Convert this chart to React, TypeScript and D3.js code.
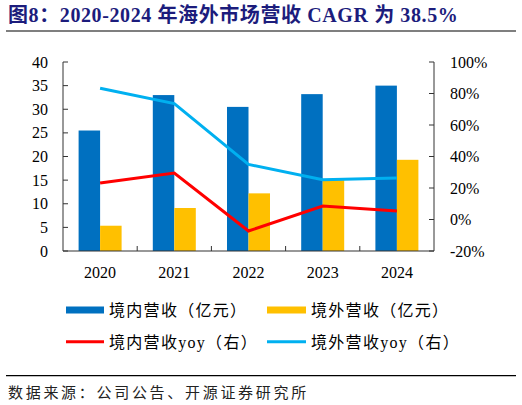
import React from "react";
import * as d3 from "d3";

const years = ["2020", "2021", "2022", "2023", "2024"];
const domestic = [25.5, 33.0, 30.5, 33.2, 35.0];
const overseas = [5.35, 9.1, 12.2, 15.0, 19.3];
const domesticYoy = [23.2, 29.5, -7.3, 8.6, 5.4];
const overseasYoy = [83.3, 73.6, 35.0, 25.3, 26.4];
const leftTicks = [0, 5, 10, 15, 20, 25, 30, 35, 40];
const rightTicks = [-20, 0, 20, 40, 60, 80, 100];

const W = 522;
const H = 405;
const left = 63;
const right = 434;
const top = 62;
const bottom = 251;

const serif = "'Liberation Serif', 'Times New Roman', serif";
const cjk = "'Liberation Serif', 'Noto Sans CJK SC', serif";

export default function App() {
  const x = d3.scaleBand<string>().domain(years).range([left, right]).paddingInner(0).paddingOuter(0);
  const bw = 21.5;
  const yL = d3.scaleLinear().domain([0, 40]).range([bottom, top]);
  const yR = d3.scaleLinear().domain([-20, 100]).range([bottom, top]);
  const cx = (y: string) => (x(y) as number) + x.bandwidth() / 2;
  const line = d3
    .line<number>()
    .x((_, i) => cx(years[i]))
    .y((d) => yR(d));
  const axisColor = "#333";
  return (
    <svg
      width={W}
      height={H}
      style={{ position: "absolute", left: 0, top: 0, background: "#fff" }}
    >
      <text
        x={8}
        y={21.5}
        fontFamily={cjk}
        fontWeight="bold"
        fontSize={20}
        letterSpacing={0.6}
        fill="#1c1c7c"
      >
        图8：2020-2024 年海外市场营收 CAGR 为 38.5%
      </text>
      <line x1={6} x2={516} y1={31} y2={31} stroke="#000" strokeWidth={1.2} />

      {/* bars */}
      {years.map((yr, i) => (
        <g key={yr}>
          <rect
            x={cx(yr) - bw}
            y={yL(domestic[i])}
            width={bw}
            height={bottom - yL(domestic[i])}
            fill="#0070C0"
          />
          <rect
            x={cx(yr)}
            y={yL(overseas[i])}
            width={bw}
            height={bottom - yL(overseas[i])}
            fill="#FFC000"
          />
        </g>
      ))}

      {/* lines */}
      <path d={line(overseasYoy) || ""} fill="none" stroke="#00B0F0" strokeWidth={3} />
      <path d={line(domesticYoy) || ""} fill="none" stroke="#FF0000" strokeWidth={3} />

      {/* left axis */}
      <line x1={left} x2={left} y1={top} y2={bottom} stroke={axisColor} strokeWidth={1} />
      {leftTicks.map((t) => (
        <g key={"l" + t}>
          <line x1={left} x2={left + 5} y1={yL(t)} y2={yL(t)} stroke={axisColor} />
          <text
            x={48}
            y={yL(t)}
            dy="0.35em"
            textAnchor="end"
            fontFamily={serif}
            fontSize={16}
            fill="#000"
          >
            {t}
          </text>
        </g>
      ))}

      {/* right axis */}
      <line x1={right} x2={right} y1={top} y2={bottom} stroke={axisColor} strokeWidth={1} />
      {rightTicks.map((t) => (
        <g key={"r" + t}>
          <line x1={right - 5} x2={right} y1={yR(t)} y2={yR(t)} stroke={axisColor} />
          <text
            x={450}
            y={yR(t)}
            dy="0.35em"
            textAnchor="start"
            fontFamily={serif}
            fontSize={16}
            fill="#000"
          >
            {t + "%"}
          </text>
        </g>
      ))}

      {/* x axis */}
      <line x1={left} x2={right} y1={bottom} y2={bottom} stroke={axisColor} strokeWidth={1.2} />
      {years.slice(1).map((yr) => (
        <line
          key={"t" + yr}
          x1={x(yr) as number}
          x2={x(yr) as number}
          y1={bottom}
          y2={bottom - 5}
          stroke={axisColor}
        />
      ))}
      {years.map((yr) => (
        <text
          key={"x" + yr}
          x={cx(yr)}
          y={272}
          dy="0.35em"
          textAnchor="middle"
          fontFamily={serif}
          fontSize={16}
          fill="#000"
        >
          {yr}
        </text>
      ))}

      {/* legend */}
      <rect x={66} y={306.5} width={38} height={7} fill="#0070C0" />
      <text x={109} y={316} fontFamily={cjk} fontSize={16} letterSpacing={1.3} fill="#000">
        境内营收（亿元）
      </text>
      <rect x={267} y={306.5} width={39} height={7} fill="#FFC000" />
      <text x={311} y={316} fontFamily={cjk} fontSize={16} letterSpacing={1.3} fill="#000">
        境外营收（亿元）
      </text>
      <line x1={66} x2={104} y1={341.7} y2={341.7} stroke="#FF0000" strokeWidth={3} />
      <text x={109} y={347.5} fontFamily={cjk} fontSize={16} letterSpacing={1.3} fill="#000">
        境内营收yoy（右）
      </text>
      <line x1={267} x2={306} y1={341.7} y2={341.7} stroke="#00B0F0" strokeWidth={3} />
      <text x={311} y={347.5} fontFamily={cjk} fontSize={16} letterSpacing={1.3} fill="#000">
        境外营收yoy（右）
      </text>

      <line x1={6} x2={516} y1={375.7} y2={375.7} stroke="#000" strokeWidth={1.2} />
      <text x={8} y={398} fontFamily={cjk} fontSize={15} letterSpacing={2.7} fill="#222">
        数据来源：公司公告、开源证券研究所
      </text>
    </svg>
  );
}
